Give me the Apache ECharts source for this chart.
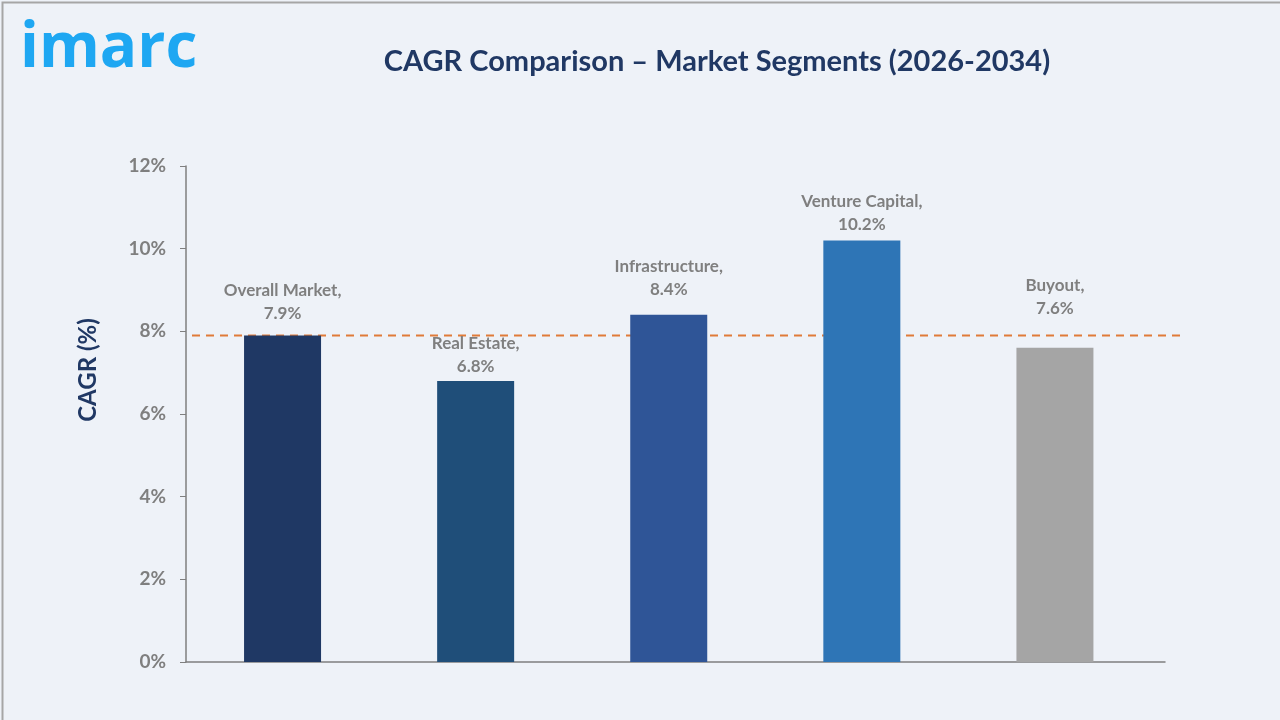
<!DOCTYPE html>
<html><head><meta charset="utf-8">
<script src="https://cdn.jsdelivr.net/npm/echarts@6/dist/echarts.min.js"></script>
<style>html,body{margin:0;padding:0;background:#eef2f8;}#c{width:1280px;height:720px;}</style>
</head><body><div id="c"></div>
<script>
const categories = ['Overall Market', 'Real Estate', 'Infrastructure', 'Venture Capital', 'Buyout'];
const cagrValues = [7.9, 6.8, 8.4, 10.2, 7.6];
const barColors = ['#1f3864', '#1f4e79', '#2f5597', '#2e75b6', '#a5a5a5'];
const overallLine = 7.9;
const yTicks = [0, 2, 4, 6, 8, 10, 12];
const labelShift = [0, 7, -4, 6, -18];

const chart = echarts.init(document.getElementById('c'));
const font = 'Lato, "Open Sans", sans-serif';
chart.setOption({
  backgroundColor: '#eef2f8',
  animation: false,
  title: {
    text: 'CAGR Comparison – Market Segments (2026-2034)',
    left: 712, top: 42, textAlign: 'center',
    textStyle: { fontFamily: font, fontSize: 29, fontWeight: 'bold', color: '#203864' }
  },
  graphic: [
    { type: 'rect', left: 0, top: 0, shape: { width: 1279, height: 719 }, style: { fill: 'none', stroke: '#a6a6a6', lineWidth: 2 }, silent: true },
    { type: 'text', left: 20, top: 18, style: { text: 'imarc', font: 'bold 62px "Open Sans", Lato, sans-serif', fill: '#1ea7f2' } },
    { type: 'text', x: 88, y: 370, rotation: Math.PI / 2, style: { text: 'CAGR (%)', font: 'bold 24px ' + font, fill: '#203864', align: 'center', verticalAlign: 'middle' } }
  ],
  grid: [
    { left: 186, right: 115, top: 166, bottom: 58 },
    { left: 192, right: 100, top: 166, bottom: 58 }
  ],
  xAxis: [
    { type: 'value', gridIndex: 0, min: -0.5, max: 4.57,
      axisLine: { show: true, onZero: false, lineStyle: { color: '#7f7f7f', width: 1.5 } },
      axisTick: { show: false }, axisLabel: { show: false }, splitLine: { show: false } },
    { type: 'value', gridIndex: 1, min: 0, max: 1, show: false }
  ],
  yAxis: [
    { type: 'value', gridIndex: 0, min: 0, max: 12, interval: 2,
      axisLine: { show: true, onZero: false, lineStyle: { color: '#7f7f7f', width: 1.5 } },
      axisTick: { show: true, length: 6, lineStyle: { color: '#7f7f7f' } },
      axisLabel: { formatter: '{value}%', fontFamily: font, fontSize: 19, fontWeight: 'bold', color: '#7f7f7f', margin: 20 },
      splitLine: { show: false } },
    { type: 'value', gridIndex: 1, min: 0, max: 12, show: false }
  ],
  series: [
    { type: 'bar', xAxisIndex: 0, yAxisIndex: 0, barWidth: 77,
      data: cagrValues.map((v, i) => ({ value: [i, v], itemStyle: { color: barColors[i] }, label: { offset: [0, labelShift[i]] } })),
      label: { show: true, position: 'top', distance: 10, lineHeight: 23,
        formatter: p => categories[p.dataIndex] + ',\n' + p.value[1].toFixed(1) + '%',
        fontFamily: font, fontSize: 17, fontWeight: 'bold', color: '#7f7f7f' } },
    { type: 'line', xAxisIndex: 1, yAxisIndex: 1, symbol: 'none', z: 1,
      data: [[0, overallLine], [1, overallLine]],
      lineStyle: { color: '#e07b39', width: 2, type: [8, 6] } }
  ]
});
</script></body></html>
